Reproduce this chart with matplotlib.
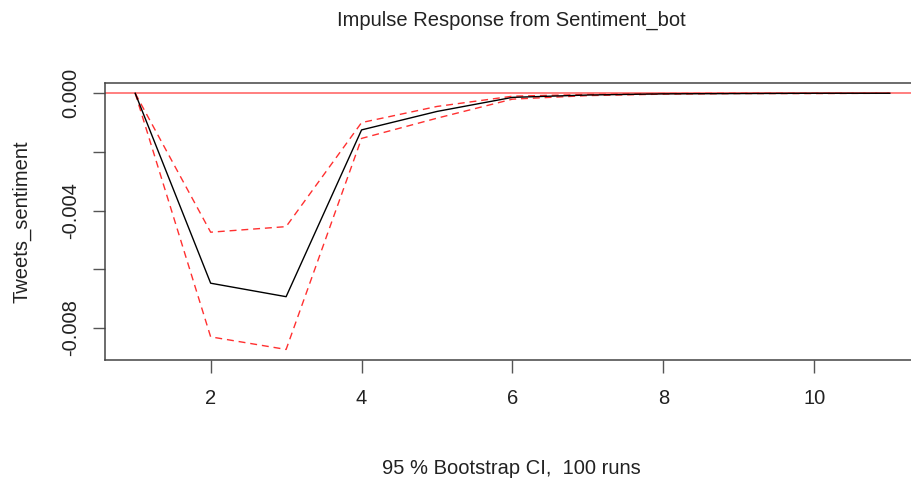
import matplotlib
matplotlib.use("Agg")
import matplotlib.pyplot as plt

# impulse response horizon
steps = [1, 2, 3, 4, 5, 6, 7, 8, 9, 10, 11]

# point estimate and bootstrap band
irf = [0.0, -0.00648, -0.00694, -0.00125, -0.00062, -0.00014, -0.00006,
       -0.00002, -0.00001, 0.0, 0.0]
upper = [0.0, -0.00474, -0.00455, -0.00100, -0.00045, -0.00010, -0.00004,
         -0.00001, 0.0, 0.0, 0.0]
lower = [0.0, -0.00831, -0.00874, -0.00154, -0.00085, -0.00020, -0.00008,
         -0.00003, -0.00001, -0.00001, 0.0]

x_ticks = [2, 4, 6, 8, 10]
y_ticks = [0.0, -0.002, -0.004, -0.006, -0.008]
y_tick_labels = ["0.000", "", "-0.004", "", "-0.008"]

plt.rcParams['font.family'] = ['Liberation Sans', 'DejaVu Sans']
txt_color = '#222222'

fig = plt.figure(figsize=(9.12, 4.83), dpi=100)
ax = fig.add_axes([105 / 912, 123 / 483, 815 / 912, 277 / 483])

ax.axhline(0, color='#ff4040', lw=1.1, alpha=0.85, zorder=1)
ax.plot(steps, irf, color='black', lw=1.0, zorder=3)
ax.plot(steps, upper, color='#ff3030', lw=1.0, dashes=(5, 3.5), zorder=2)
ax.plot(steps, lower, color='#ff3030', lw=1.0, dashes=(5, 3.5), zorder=2)

ax.set_xlim(0.6, 11.4)
ax.set_ylim(-0.0091, 0.00035)

ax.set_xticks(x_ticks)
ax.set_xticklabels([str(t) for t in x_ticks])
ax.set_yticks(y_ticks)
ax.set_yticklabels(y_tick_labels, rotation=90, va='center')

ax.tick_params(axis='both', length=9, width=1, color='#555555',
               labelsize=14.5, labelcolor=txt_color)
ax.tick_params(axis='x', pad=12)
ax.tick_params(axis='y', pad=9)
for spine in ax.spines.values():
    spine.set_color('#444444')
    spine.set_linewidth(1.1)

fig.text(511 / 912, 1 - 20 / 483, "Impulse Response from Sentiment_bot",
         ha='center', va='center', fontsize=14.5, color=txt_color)
fig.text(511 / 912, 1 - 468 / 483, "95 % Bootstrap CI,  100 runs",
         ha='center', va='center', fontsize=14.5, color=txt_color)
fig.text(22 / 912, 1 - 222 / 483, "Tweets_sentiment", rotation=90,
         ha='center', va='center', fontsize=14.5, color=txt_color)

fig.savefig("out.png", dpi=100)
